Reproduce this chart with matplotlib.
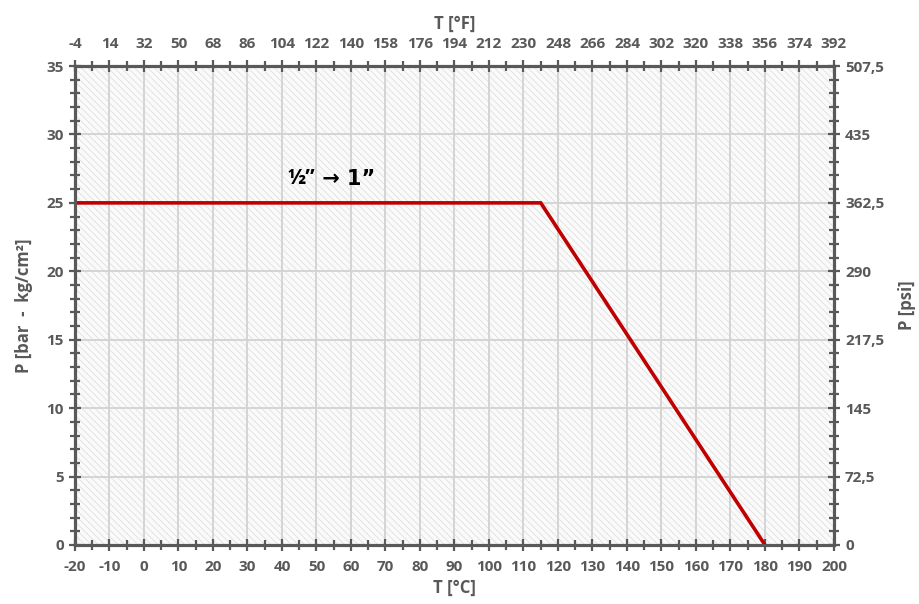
import matplotlib.pyplot as plt
from matplotlib.patches import Rectangle
from matplotlib.ticker import MultipleLocator, FuncFormatter

# pressure/temperature curve
temp_c = [-20, 115, 180]
press_bar = [25, 25, 0]
label_txt = "½” → 1”"

grey = "#595959"
plt.rcParams['font.family'] = ['Open Sans', 'DejaVu Sans']
plt.rcParams['axes.unicode_minus'] = False
plt.rcParams['hatch.linewidth'] = 0.6

fig = plt.figure(figsize=(9.19, 6.04), dpi=100)
ax = fig.add_axes([0.0816, 0.0977, 0.8259, 0.793])

# hatched background
ax.add_patch(Rectangle((0, 0), 1, 1, transform=ax.transAxes, facecolor="#fafafa",
                       edgecolor="#e0e0e0", hatch="\\\\\\\\\\", lw=0, zorder=0))
ax.set_xlim(-20, 200)
ax.set_ylim(0, 35)
ax.xaxis.set_major_locator(MultipleLocator(10))
ax.xaxis.set_minor_locator(MultipleLocator(5))
ax.yaxis.set_major_locator(MultipleLocator(5))
ax.yaxis.set_minor_locator(MultipleLocator(1))
ax.grid(True, which="major", color="#d2d2d2", lw=1.3, zorder=1)

ax.plot(temp_c, press_bar, color="#c00000", lw=2.6, zorder=3, solid_joinstyle="miter")
half, rest = label_txt.split(" ", 1)
ax.text(49.5, 26.0, half, fontsize=15, fontweight="bold", color="black",
        ha="right", va="bottom", zorder=4)
ax.text(49.5, 26.0, " " + rest, fontsize=15, fontweight="bold", color="black",
        ha="left", va="bottom", zorder=4, family=["DejaVu Sans"])

ax.set_xlabel("T [°C]", fontsize=12, fontweight="bold", color=grey, labelpad=4)
ax.set_ylabel("P [bar  -  kg/cm²]", fontsize=12, fontweight="bold", color=grey, labelpad=10)

# secondary scales
axt = ax.twiny()
axt.set_xlim(-4, 392)
axt.xaxis.set_major_locator(MultipleLocator(18, offset=-4))
axt.xaxis.set_minor_locator(MultipleLocator(9, offset=-4))
axt.set_xlabel("T [°F]", fontsize=12, fontweight="bold", color=grey, labelpad=6)

axr = ax.twinx()
axr.set_ylim(0, 507.5)
axr.yaxis.set_major_locator(MultipleLocator(72.5))
axr.yaxis.set_minor_locator(MultipleLocator(14.5))
axr.yaxis.set_major_formatter(FuncFormatter(lambda v, p: ("%g" % v).replace(".", ",")))
axr.set_ylabel("P [psi]", fontsize=12, fontweight="bold", color=grey, labelpad=10)

for a in (ax, axt, axr):
    for s in a.spines.values():
        s.set_color(grey)
        s.set_linewidth(2.2)
    a.tick_params(which="major", direction="inout", length=9, width=1.6, color=grey,
                  labelsize=11, labelcolor=grey)
    a.tick_params(which="minor", direction="inout", length=7, width=1.6, color=grey)
    for t in a.get_xticklabels() + a.get_yticklabels():
        t.set_fontweight("bold")

ax.tick_params(axis="x", pad=6)
axt.tick_params(axis="x", pad=6)

fig.savefig("out.png", dpi=100)
